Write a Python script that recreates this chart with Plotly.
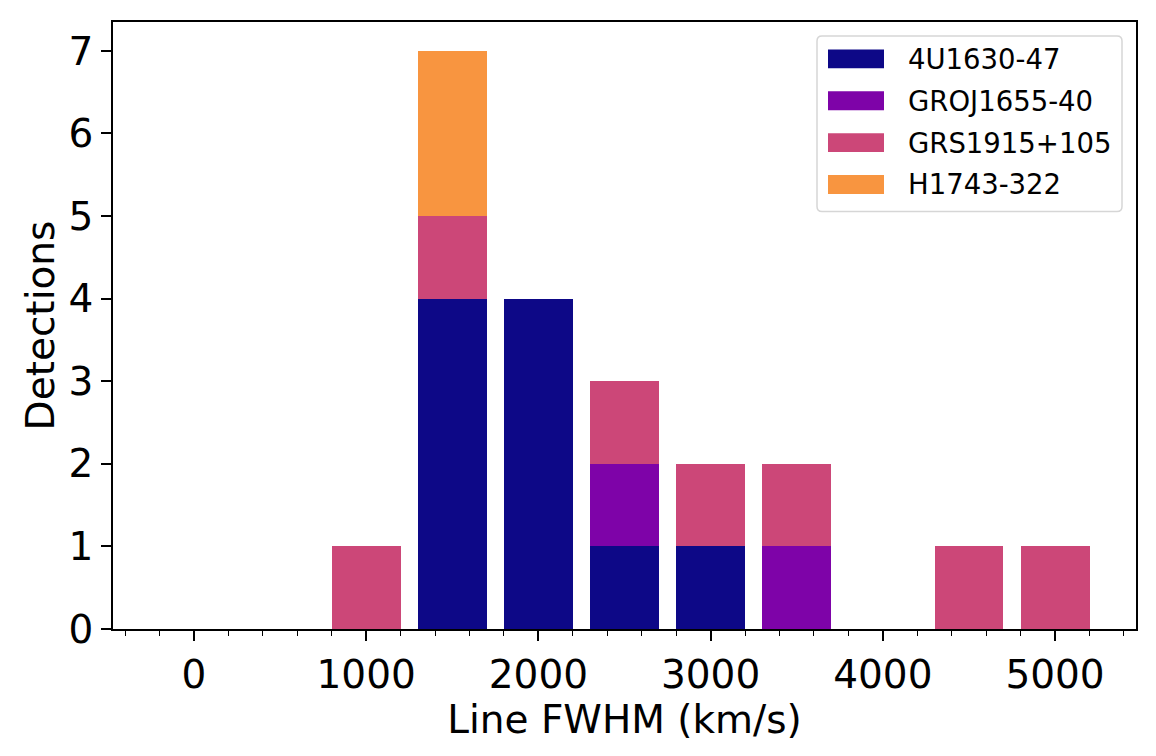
import plotly.graph_objects as go

# bin centres (km/s) and detections per source
bin_centres = [0, 500, 1000, 1500, 2000, 2500, 3000, 3500, 4000, 4500, 5000]
sources = ["4U1630-47", "GROJ1655-40", "GRS1915+105", "H1743-322"]
counts_4u1630 = [0, 0, 0, 4, 4, 1, 1, 0, 0, 0, 0]
counts_groj1655 = [0, 0, 0, 0, 0, 1, 0, 1, 0, 0, 0]
counts_grs1915 = [0, 0, 1, 1, 0, 1, 1, 1, 0, 1, 1]
counts_h1743 = [0, 0, 0, 2, 0, 0, 0, 0, 0, 0, 0]
colors = ["#0d0887", "#7e03a8", "#cc4778", "#f89540"]

# page has an 8px body margin, so the figure sits offset by that much
OFF = 8
W, H = 1156, 756
L, R, T, B = 105, 28, 12, 135
pw, ph = W - L - R, H - T - B

def px(x):
	return (x - OFF - L) / pw

def py(y):
	return (H - B - (y - OFF)) / ph

fig = go.Figure()
for name, vals, col in zip(sources, [counts_4u1630, counts_groj1655, counts_grs1915, counts_h1743], colors):
	fig.add_trace(go.Bar(
		x=bin_centres,
		y=vals,
		width=400,
		name=name,
		marker=dict(color=col, line=dict(width=0)),
		showlegend=False
	))

# matplotlib-like legend drawn by hand (page pixel positions)
shapes = []
annotations = []
x0, x1, y0, y1, r = 817, 1122, 34, 210, 5
path = (f"M {px(x0 + r)},{py(y0)} L {px(x1 - r)},{py(y0)} Q {px(x1)},{py(y0)} {px(x1)},{py(y0 + r)} "
	f"L {px(x1)},{py(y1 - r)} Q {px(x1)},{py(y1)} {px(x1 - r)},{py(y1)} "
	f"L {px(x0 + r)},{py(y1)} Q {px(x0)},{py(y1)} {px(x0)},{py(y1 - r)} "
	f"L {px(x0)},{py(y0 + r)} Q {px(x0)},{py(y0)} {px(x0 + r)},{py(y0)} Z")
shapes.append(dict(type="path", xref="paper", yref="paper", path=path,
	fillcolor="rgba(255,255,255,0.8)", line=dict(color="#d6d6d6", width=1.5)))
row_y = [57, 99, 141, 183]
for name, col, yc in zip(sources, colors, row_y):
	shapes.append(dict(type="rect", xref="paper", yref="paper",
		x0=px(828), x1=px(884), y0=py(yc - 9.5), y1=py(yc + 9.5),
		fillcolor=col, line=dict(width=0)))
	annotations.append(dict(xref="paper", yref="paper", x=px(906), y=py(yc),
		text=name, showarrow=False, xanchor="left", yanchor="middle",
		font=dict(size=27.5, color="black")))

fig.update_layout(
	width=W,
	height=H,
	barmode="stack",
	bargap=0,
	plot_bgcolor="white",
	paper_bgcolor="white",
	margin=dict(l=L, r=R, t=T, b=B),
	font=dict(family="DejaVu Sans", color="black"),
	shapes=shapes,
	annotations=annotations,
	xaxis=dict(
		range=[-470, 5470],
		tickmode="linear", tick0=0, dtick=1000,
		ticks="outside", ticklen=10, tickwidth=1.5, tickcolor="black",
		showline=True, linecolor="black", linewidth=1.5, mirror=True,
		showgrid=False, zeroline=False,
		tickfont=dict(size=39),
		minor=dict(dtick=200, tick0=0, ticks="outside", ticklen=5, tickwidth=1.2, tickcolor="black", showgrid=False),
		title=dict(text="Line FWHM (km/s)", font=dict(size=39), standoff=6)
	),
	yaxis=dict(
		range=[0, 7.35],
		tickmode="linear", tick0=0, dtick=1,
		ticks="outside", ticklen=10, tickwidth=1.5, tickcolor="black",
		showline=True, linecolor="black", linewidth=1.5, mirror=True,
		showgrid=False, zeroline=False,
		tickfont=dict(size=39),
		title=dict(text="Detections", font=dict(size=39), standoff=2)
	)
)

fig.write_html("out.html")
